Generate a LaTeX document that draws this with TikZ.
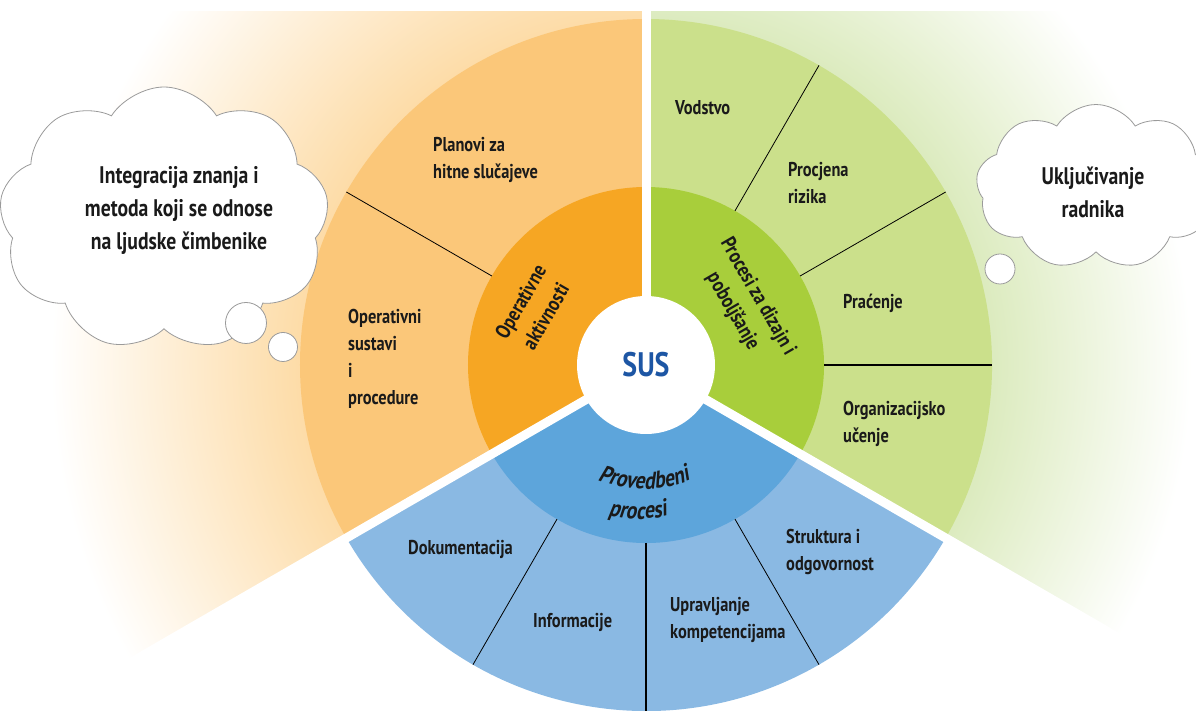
\documentclass[tikz,border=0pt]{standalone}
\usepackage{fontspec}
\setmainfont{PT Sans}[FakeStretch=0.82]
\newfontfamily\provfam{PT Sans}[FakeStretch=0.82, FakeSlant=0.2]
\usepackage{tikz}
\usetikzlibrary{shapes.symbols, decorations.text}
\definecolor{orinner}{HTML}{F6A623}
\definecolor{orouter}{HTML}{FBC779}
\definecolor{orfan}{HTML}{FDDCA8}
\definecolor{grinner}{HTML}{A8CE3B}
\definecolor{grouter}{HTML}{CBE08B}
\definecolor{grfan}{HTML}{DCEBBF}
\definecolor{blinner}{HTML}{5DA5DB}
\definecolor{blouter}{HTML}{8AB9E3}
\definecolor{susblue}{HTML}{1D56A4}
\definecolor{labeltext}{HTML}{1A1A1A}
\definecolor{cloudline}{HTML}{9A9A9A}
\pgfdeclareradialshading{orfade}{\pgfpoint{0bp}{0bp}}{color(0bp)=(orfan); color(14bp)=(orfan); color(24bp)=(white); color(50bp)=(white)}
\pgfdeclareradialshading{grfade}{\pgfpoint{0bp}{0bp}}{color(0bp)=(grfan); color(14bp)=(grfan); color(22bp)=(white); color(50bp)=(white)}
\newcommand{\provfont}{\fontsize{24}{28}\provfam\bfseries}

\begin{document}
\begin{tikzpicture}[
    x=1pt, y=1pt,
    ringlabel/.style={font=\fontsize{20}{27}\selectfont\bfseries, text=labeltext, align=left, anchor=west, inner sep=0pt},
    corelabel/.style={font=\fontsize{21}{29}\selectfont\bfseries, text=labeltext, align=center, inner sep=0pt},
    divider/.style={draw=black, line width=0.8pt},
    gapline/.style={draw=white, line width=9pt},
    thought/.style={cloud, cloud puffs=9, cloud puff arc=115, cloud ignores aspect, draw=cloudline, fill=white, line width=0.8pt, inner sep=0pt},
    cloudtext/.style={font=\fontsize{24}{33}\selectfont\bfseries, text=labeltext, align=center, inner sep=0pt},
    bubble/.style={circle, draw=cloudline, fill=white, line width=0.8pt, inner sep=0pt},
  ]
  \useasboundingbox (-646,-346) rectangle (550,365);
  % Background fans
  \begin{scope}
    \clip (-646,-346) rectangle (550,353);
    \clip (0,0) -- (90:720) arc (90:210:720) -- cycle;
    \shade[shading=orfade] (0,0) circle (620);
  \end{scope}
  \begin{scope}
    \clip (-646,-346) rectangle (550,353);
    \clip (0,0) -- (-30:720) arc (-30:90:720) -- cycle;
    \shade[shading=grfade] (0,0) circle (620);
  \end{scope}
  % Sectors
  \fill[orouter] (0,0) -- (90:346) arc (90:210:346) -- cycle;
  \fill[orinner] (0,0) -- (90:178) arc (90:210:178) -- cycle;
  \fill[grouter] (0,0) -- (-30:346) arc (-30:90:346) -- cycle;
  \fill[grinner] (0,0) -- (-30:178) arc (-30:90:178) -- cycle;
  \fill[blouter] (0,0) -- (210:346) arc (210:330:346) -- cycle;
  \fill[blinner] (0,0) -- (210:178) arc (210:330:178) -- cycle;
  % Dividers
  \draw[divider] (150:178) -- (150:346);
  \draw[divider] (60:178) -- (60:346);
  \draw[divider] (30:178) -- (30:346);
  \draw[divider, line width=1.6pt] (0:178) -- (0:346);
  \draw[divider] (240:178) -- (240:346);
  \draw[divider, line width=1.6pt] (270:178) -- (270:346);
  \draw[divider] (300:178) -- (300:346);
  % Gaps
  \draw[gapline] (0,0) -- (90:720);
  \draw[gapline] (0,0) -- (210:720);
  \draw[gapline] (0,0) -- (330:720);
  % Hub
  \node[circle, fill=white, minimum size=138pt, font=\fontsize{34}{40}\selectfont\bfseries, text=susblue] (sus) at (0,0) {SUS};
  % Inner ring
  \node[corelabel, rotate=60] (operativne) at (-113,56) {Operativne\\aktivnosti};
  \node[corelabel, rotate=-60] (dizajn) at (99,61) {Procesi za dizajn i\\poboljšanje};
  \path[decorate, decoration={text along path, text={|\provfont|Provedbeni}, text align=center, text color=labeltext}]
    ([shift={(-2,0)}]220:124) arc (220:320:124);
  \path[decorate, decoration={text along path, text={|\provfont|procesi}, text align=center, text color=labeltext}]
    ([shift={(-8,-23)}]220:131) arc (220:320:131);
  % Outer ring
  \node[ringlabel] (planovi) at (-213,205) {Planovi za\\hitne slučajeve};
  \node[ringlabel] (sustavi) at (-298,6) {Operativni\\sustavi\\i\\procedure};
  \node[ringlabel] (vodstvo) at (29,257) {Vodstvo};
  \node[ringlabel] (rizik) at (142,182) {Procjena\\rizika};
  \node[ringlabel] (pracenje) at (197,62) {Praćenje};
  \node[ringlabel] (ucenje) at (197,-59) {Organizacijsko\\učenje};
  \node[ringlabel] (dokum) at (-238,-184) {Dokumentacija};
  \node[ringlabel] (info) at (-113,-257) {Informacije};
  \node[ringlabel] (kompet) at (24,-255) {Upravljanje\\kompetencijama};
  \node[ringlabel] (struktura) at (140,-187) {Struktura i\\odgovornost};
  % Clouds
  \node[thought, minimum width=330pt, minimum height=264pt] (ljudski) at (-482,146) {};
  \node[cloudtext] (ljudskitxt) at (-467,155) {Integracija znanja i\\metoda koji se odnose\\na ljudske čimbenike};
  \node[bubble, minimum size=41pt] (ljb1) at (-400,42) {};
  \node[bubble, minimum size=29pt] (ljb2) at (-363,18) {};
  \node[thought, minimum width=240pt, minimum height=165pt] (radnici) at (450,178) {};
  \node[cloudtext] (radnicitxt) at (447,173) {Uključivanje\\radnika};
  \node[bubble, minimum size=30pt] (rb1) at (354,96) {};
\end{tikzpicture}
\end{document}
